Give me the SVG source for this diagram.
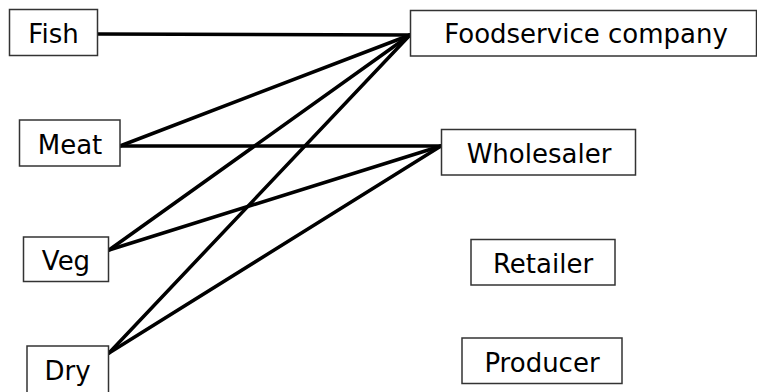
<svg xmlns="http://www.w3.org/2000/svg" width="757" height="392" viewBox="0 0 757 392">
  <style>
    .box { fill: #ffffff; stroke: #333333; stroke-width: 1.5; }
    .label { font-family: "DejaVu Sans", Verdana, sans-serif; font-size: 26px; fill: #000000; text-anchor: middle; }
    .link { stroke: #000000; stroke-width: 3.5; fill: none; stroke-linecap: round; }
  </style>
  <rect width="757" height="392" fill="#ffffff"/>

  <!-- connectors -->
  <g id="connectors">
    <line class="link" x1="98" y1="34" x2="410" y2="35"/>
    <line class="link" x1="120" y1="146" x2="410" y2="35"/>
    <line class="link" x1="120" y1="146" x2="441" y2="146"/>
    <line class="link" x1="109" y1="250" x2="410" y2="35"/>
    <line class="link" x1="109" y1="250" x2="441" y2="146"/>
    <line class="link" x1="109" y1="353" x2="410" y2="35"/>
    <line class="link" x1="109" y1="353" x2="441" y2="146"/>
  </g>

  <!-- source categories -->
  <g id="fish">
    <rect class="box" x="9.5" y="9.5" width="88" height="46"/>
    <text class="label" x="53.5" y="43">Fish</text>
  </g>
  <g id="meat">
    <rect class="box" x="19.5" y="120" width="100.5" height="46"/>
    <text class="label" x="70" y="154">Meat</text>
  </g>
  <g id="veg">
    <rect class="box" x="23.5" y="237" width="85" height="44.5"/>
    <text class="label" x="66" y="270">Veg</text>
  </g>
  <g id="dry">
    <rect class="box" x="27" y="346" width="81.5" height="50"/>
    <text class="label" x="67.5" y="380">Dry</text>
  </g>

  <!-- buyers -->
  <g id="foodservice">
    <rect class="box" x="410.5" y="10.5" width="346" height="45.5"/>
    <text class="label" x="586" y="43">Foodservice company</text>
  </g>
  <g id="wholesaler">
    <rect class="box" x="441.5" y="129.5" width="194" height="45.5"/>
    <text class="label" x="539" y="163">Wholesaler</text>
  </g>
  <g id="retailer">
    <rect class="box" x="471" y="239.5" width="144" height="45.5"/>
    <text class="label" x="543" y="273">Retailer</text>
  </g>
  <g id="producer">
    <rect class="box" x="462" y="338" width="160" height="45.5"/>
    <text class="label" x="542" y="372">Producer</text>
  </g>
</svg>
